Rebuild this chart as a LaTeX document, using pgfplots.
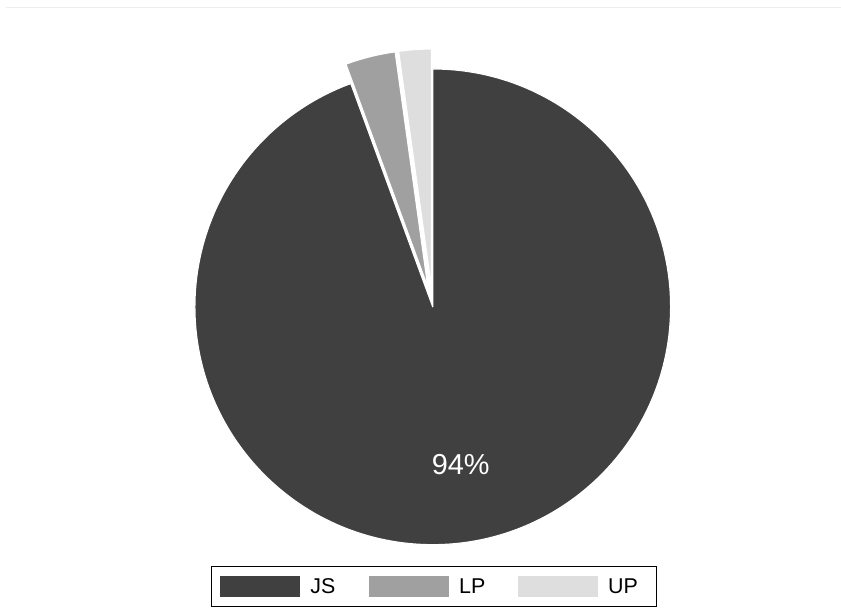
\documentclass[border=0pt]{standalone}
\usepackage{pgfplots}
\usepackage{pgfplotstable}
\pgfplotsset{compat=1.18}
\usetikzlibrary{calc}
\usepackage{fontspec}
\setmainfont{Liberation Sans}

\definecolor{js}{RGB}{64,64,64}
\definecolor{lp}{RGB}{160,160,160}
\definecolor{up}{RGB}{222,222,222}

% shares in percent, explode offset in bp
\pgfplotstableread{
part share explode
JS   94.4  0
LP   3.4   20
UP   2.2   20
}\piedata

\pgfplotstablegetelem{0}{share}\of\piedata \let\shJS\pgfplotsretval
\pgfplotstablegetelem{1}{share}\of\piedata \let\shLP\pgfplotsretval
\pgfplotstablegetelem{2}{share}\of\piedata \let\shUP\pgfplotsretval
\pgfplotstablegetelem{0}{explode}\of\piedata \let\exJS\pgfplotsretval
\pgfplotstablegetelem{1}{explode}\of\piedata \let\exLP\pgfplotsretval
\pgfplotstablegetelem{2}{explode}\of\piedata \let\exUP\pgfplotsretval
% slices run clockwise from 12 o'clock
\pgfmathsetmacro\aA{90}
\pgfmathsetmacro\aB{\aA-3.6*\shJS}
\pgfmathsetmacro\aC{\aB-3.6*\shLP}
\pgfmathsetmacro\aD{\aC-3.6*\shUP}
\pgfmathsetmacro\mJS{(\aA+\aB)/2}
\pgfmathsetmacro\mLP{(\aB+\aC)/2}
\pgfmathsetmacro\mUP{(\aC+\aD)/2}
\def\cx{433}\def\cy{308}\def\rad{238}

\begin{document}%
\begin{tikzpicture}
\begin{axis}[
  width=841bp, height=615bp, scale only axis,
  xmin=0, xmax=841, ymin=0, ymax=615,
  hide axis, clip=false,
  legend columns=3,
  legend cell align=left,
  legend image code/.code={\fill (0bp,-10.8bp) rectangle (80bp,10.8bp);},
  legend style={at={(axis cs:434,28)}, anchor=center,
    draw=black, line width=0.8bp, inner sep=9bp,
    font=\fontsize{21.5}{24}\selectfont,
    nodes={inner sep=0pt},
    /tikz/every odd column/.append style={column sep=10bp},
    /tikz/every even column/.append style={column sep=20bp}},
]
\path (axis cs:0,0) rectangle (axis cs:841,615);
\draw[black!7, line width=1bp] (axis cs:6,607) -- (axis cs:841,607);

\fill[js, draw=white, line width=1.2bp, line join=round]
  ($(axis cs:\cx,\cy)+(\mJS:\exJS bp)$) -- ++(\aA:\rad bp)
  arc[start angle=\aA, end angle=\aB, radius=\rad bp] -- cycle;
\fill[lp, draw=white, line width=1.2bp, line join=round]
  ($(axis cs:\cx,\cy)+(\mLP:\exLP bp)$) -- ++(\aB:\rad bp)
  arc[start angle=\aB, end angle=\aC, radius=\rad bp] -- cycle;
\fill[up, draw=white, line width=1.2bp, line join=round]
  ($(axis cs:\cx,\cy)+(\mUP:\exUP bp)$) -- ++(\aC:\rad bp)
  arc[start angle=\aC, end angle=\aD, radius=\rad bp] -- cycle;

\node[white, font=\fontsize{29}{32}\selectfont]
  at ($(axis cs:\cx,\cy)+(\mJS:160bp)$)
  {\pgfmathprintnumber[fixed, precision=0, assume math mode=true]{\shJS}\%};

\addlegendimage{fill=js, draw=none}
\addlegendentry{\makebox[39bp][l]{JS}}
\addlegendimage{fill=lp, draw=none}
\addlegendentry{\makebox[39bp][l]{LP}}
\addlegendimage{fill=up, draw=none}
\addlegendentry{\makebox[39bp][l]{UP}}
\end{axis}
\end{tikzpicture}%
\end{document}
